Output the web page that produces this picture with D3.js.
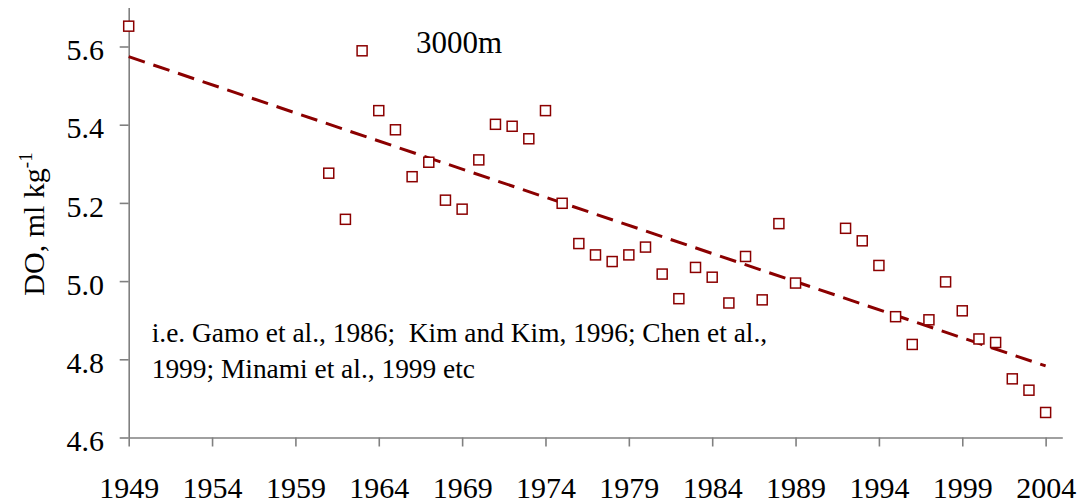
<!DOCTYPE html>
<html>
<head>
<meta charset="utf-8">
<script src="https://cdn.jsdelivr.net/npm/d3@7/dist/d3.min.js"></script>
<style>
  html, body { margin: 0; padding: 0; background: #fff; }
  svg { display: block; }
</style>
</head>
<body>
<svg id="chart" width="1082" height="504"></svg>
<script>
// ---- data ----
const years = [1949,
  1961, 1962, 1963, 1964, 1965, 1966, 1967, 1968, 1969, 1970,
  1971, 1972, 1973, 1974, 1975, 1976, 1977, 1978, 1979, 1980,
  1981, 1982, 1983, 1984, 1985, 1986, 1987, 1988, 1989,
  1992, 1993, 1994, 1995, 1996, 1997, 1998, 1999, 2000, 2001, 2002, 2003, 2004];
const doValues = [5.652,
  5.276, 5.158, 5.589, 5.436, 5.387, 5.267, 5.304, 5.207, 5.184, 5.310,
  5.401, 5.396, 5.364, 5.436, 5.199, 5.096, 5.067, 5.050, 5.067, 5.087,
  5.018, 4.955, 5.035, 5.010, 4.944, 5.063, 4.952, 5.147, 4.995,
  5.135, 5.103, 5.040, 4.909, 4.838, 4.901, 4.998, 4.924, 4.852, 4.843, 4.750, 4.721, 4.664];
const trendYears = [1949, 2004];
const trendValues = [5.574, 4.783];
const xTickValues = [1949, 1954, 1959, 1964, 1969, 1974, 1979, 1984, 1989, 1994, 1999, 2004];
const yTickValues = [4.6, 4.8, 5.0, 5.2, 5.4, 5.6];
const depthLabel = "3000m";
const noteLines = ["i.e. Gamo et al., 1986;  Kim and Kim, 1996; Chen et al.,", "1999; Minami et al., 1999 etc"];

// ---- layout ----
const serif = '"Liberation Serif", "Times New Roman", serif';
const svg = d3.select("#chart");
const x = d3.scaleLinear().domain([1949, 2005]).range([128.7, 1062.3]);
const y = d3.scaleLinear().domain([4.6, 5.7]).range([437.5, 7.4]);
const markColor = "#8b0000";
const axisColor = "#808080";

// axes
const xAxis = svg.append("g")
  .attr("transform", `translate(0,${y(4.6)})`)
  .call(d3.axisBottom(x).tickValues(xTickValues).tickFormat(d3.format("d"))
        .tickSize(9).tickSizeOuter(0).tickPadding(30));
const yAxis = svg.append("g")
  .attr("transform", `translate(${x(1949)},0)`)
  .call(d3.axisLeft(y).tickValues(yTickValues).tickFormat(d3.format(".1f"))
        .tickSize(9).tickSizeOuter(0).tickPadding(15.7));

[xAxis, yAxis].forEach(g => {
  g.attr("font-family", serif).attr("font-size", 30);
  g.select(".domain").attr("stroke", axisColor).attr("stroke-width", 1.6);
  g.selectAll(".tick line").attr("stroke", axisColor).attr("stroke-width", 1.6);
  g.selectAll(".tick text").attr("fill", "#000")
    .attr("font-family", serif).attr("font-size", 30);
});
yAxis.selectAll(".tick text").attr("dy", "0.44em");

// trend line
const pts = trendYears.map((d, i) => [d, trendValues[i]]);
svg.append("path")
  .datum(pts)
  .attr("d", d3.line().x(d => x(d[0])).y(d => y(d[1])))
  .attr("fill", "none")
  .attr("stroke", markColor)
  .attr("stroke-width", 3)
  .attr("stroke-dasharray", "17,9");

// points
const s = 10;
svg.append("g").selectAll("rect")
  .data(years.map((d, i) => ({ year: d, v: doValues[i] })))
  .join("rect")
  .attr("x", d => x(d.year) - s / 2)
  .attr("y", d => y(d.v) - s / 2)
  .attr("width", s)
  .attr("height", s)
  .attr("fill", "#fff")
  .attr("stroke", markColor)
  .attr("stroke-width", 1.5);

// y axis title
const yt = svg.append("text")
  .attr("transform", "translate(44,224) rotate(-90)")
  .attr("text-anchor", "middle")
  .attr("font-family", serif)
  .attr("font-size", 30)
  .attr("fill", "#000");
yt.append("tspan").text("DO, ml kg");
yt.append("tspan").text("-1").attr("font-size", 19).attr("dy", "-12");

// depth label
svg.append("text")
  .attr("x", 416).attr("y", 53)
  .attr("font-family", serif)
  .attr("font-size", 31)
  .attr("fill", "#000")
  .text(depthLabel);

// note
svg.append("g").selectAll("text")
  .data(noteLines)
  .join("text")
  .attr("x", 151.7)
  .attr("y", (d, i) => 341.7 + i * 36.3)
  .attr("font-family", serif)
  .attr("font-size", 27.4)
  .style("white-space", "pre")
  .attr("fill", "#000")
  .text(d => d);
</script>
</body>
</html>
